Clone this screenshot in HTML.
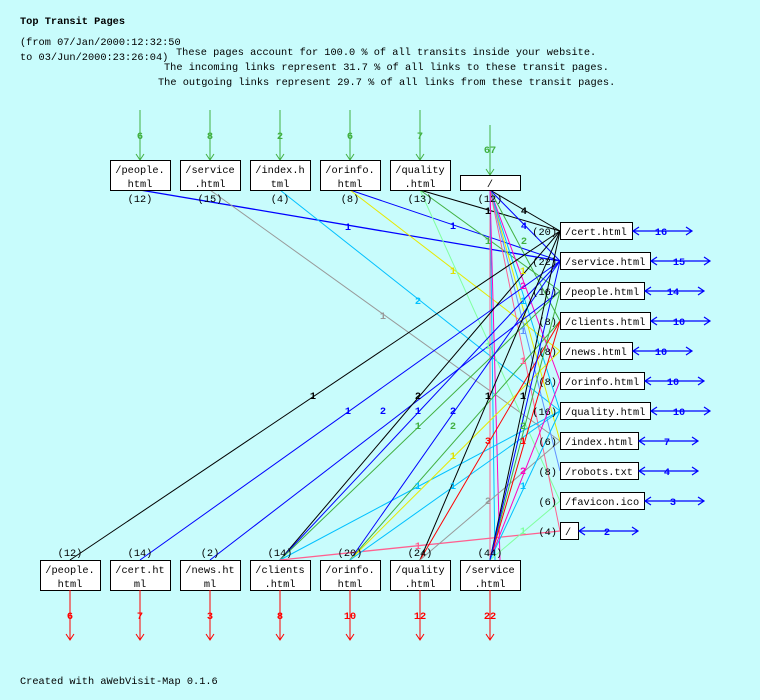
<!DOCTYPE html>
<html><head><meta charset="utf-8"><style>
html,body{margin:0;padding:0;background:#c8fcfc;}
svg{display:block;}
text{font-family:"Liberation Mono","DejaVu Sans Mono",monospace;font-size:10.3px;}
.b{font-weight:bold;font-size:11px;}
</style></head><body>
<svg width="760" height="700" viewBox="0 0 760 700" xmlns="http://www.w3.org/2000/svg">
<rect width="760" height="700" fill="#c8fcfc"/>
<text x="20" y="24" font-weight="bold" font-size="11px">Top Transit Pages</text>
<text x="20" y="45">(from 07/Jan/2000:12:32:50</text>
<text x="20" y="60">to 03/Jun/2000:23:26:04)</text>
<text x="176" y="55">These pages account for 100.0 % of all transits inside your website.</text>
<text x="164" y="70">The incoming links represent 31.7 % of all links to these transit pages.</text>
<text x="158" y="85">The outgoing links represent 29.7 % of all links from these transit pages.</text>

<g stroke-width="1" fill="none">
<line x1="140" y1="190" x2="560" y2="261" stroke="#0000ff" stroke-width="1.3"/>
<line x1="210" y1="190" x2="560" y2="441" stroke="#999"/>
<line x1="280" y1="190" x2="560" y2="411" stroke="#00c0ff"/>
<line x1="350" y1="190" x2="560" y2="261" stroke="#0000ff"/>
<line x1="350" y1="190" x2="560" y2="351" stroke="#e8e800"/>
<line x1="420" y1="190" x2="560" y2="231" stroke="#000"/>
<line x1="420" y1="190" x2="560" y2="291" stroke="#40b040"/>
<line x1="420" y1="190" x2="560" y2="501" stroke="#80ffa0"/>
<line x1="490" y1="190" x2="560" y2="231" stroke="#000"/>
<line x1="490" y1="190" x2="560" y2="261" stroke="#0000ff"/>
<line x1="490" y1="190" x2="560" y2="321" stroke="#40b040"/>
<line x1="490" y1="190" x2="560" y2="441" stroke="#e8e800"/>
<line x1="490" y1="190" x2="560" y2="381" stroke="#ff00c0"/>
<line x1="490" y1="190" x2="560" y2="411" stroke="#00c0ff"/>
<line x1="490" y1="190" x2="560" y2="471" stroke="#6090ff"/>
<line x1="490" y1="190" x2="560" y2="531" stroke="#ff6090"/>
<line x1="490" y1="190" x2="490" y2="560" stroke="#ff6090"/>
<line x1="490" y1="190" x2="495" y2="560" stroke="#00c0ff"/>
<line x1="490" y1="190" x2="500" y2="560" stroke="#ff00c0"/>
<line x1="70" y1="560" x2="560" y2="231" stroke="#000"/>
<line x1="140" y1="560" x2="560" y2="261" stroke="#0000ff"/>
<line x1="210" y1="560" x2="560" y2="291" stroke="#0000ff"/>
<line x1="280" y1="560" x2="560" y2="231" stroke="#000"/>
<line x1="280" y1="560" x2="560" y2="261" stroke="#0000ff"/>
<line x1="280" y1="560" x2="560" y2="291" stroke="#40b040"/>
<line x1="280" y1="560" x2="560" y2="411" stroke="#00c0ff"/>
<line x1="280" y1="560" x2="560" y2="531" stroke="#ff6090" stroke-width="1.3"/>
<line x1="350" y1="560" x2="560" y2="261" stroke="#0000ff"/>
<line x1="350" y1="560" x2="560" y2="321" stroke="#40b040"/>
<line x1="350" y1="560" x2="560" y2="351" stroke="#e8e800"/>
<line x1="350" y1="560" x2="560" y2="411" stroke="#00c0ff"/>
<line x1="420" y1="560" x2="560" y2="231" stroke="#000"/>
<line x1="420" y1="560" x2="560" y2="321" stroke="#ff0000"/>
<line x1="420" y1="560" x2="560" y2="441" stroke="#999"/>
<line x1="490" y1="560" x2="560" y2="231" stroke="#000"/>
<line x1="490" y1="560" x2="560" y2="291" stroke="#40b040"/>
<line x1="490" y1="560" x2="560" y2="321" stroke="#ff0000"/>
<line x1="490" y1="560" x2="560" y2="381" stroke="#ff00c0"/>
<line x1="490" y1="560" x2="560" y2="411" stroke="#00c0ff"/>
<line x1="490" y1="560" x2="560" y2="501" stroke="#80ffa0"/>
<line x1="490" y1="560" x2="560" y2="261" stroke="#0000ff"/>
</g>

<g class="b" text-anchor="middle">
<text x="348" y="230" fill="#0000ff">1</text>
<text x="383" y="319" fill="#999">1</text>
<text x="418" y="304" fill="#00c0ff">2</text>
<text x="453" y="229" fill="#0000ff">1</text>
<text x="453" y="274" fill="#e0e000">1</text>
<text x="488" y="214" fill="#000">1</text>
<text x="488" y="244" fill="#40b040">1</text>
<text x="488" y="349" fill="#80ffa0">1</text>
<text x="524" y="214" fill="#000">4</text>
<text x="524" y="229" fill="#0000ff">4</text>
<text x="524" y="244" fill="#40b040">2</text>
<text x="523" y="274" fill="#e0e000">1</text>
<text x="523" y="289" fill="#ff00c0">2</text>
<text x="523" y="304" fill="#00c0ff">1</text>
<text x="523" y="334" fill="#6090ff">1</text>
<text x="523" y="364" fill="#ff6090">1</text>
<text x="313" y="399" fill="#000">1</text>
<text x="348" y="414" fill="#0000ff">1</text>
<text x="383" y="414" fill="#0000ff">2</text>
<text x="418" y="399" fill="#000">2</text>
<text x="418" y="414" fill="#0000ff">1</text>
<text x="418" y="429" fill="#40b040">1</text>
<text x="418" y="489" fill="#00c0ff">1</text>
<text x="418" y="549" fill="#ff6090">1</text>
<text x="453" y="414" fill="#0000ff">2</text>
<text x="453" y="429" fill="#40b040">2</text>
<text x="453" y="459" fill="#e0e000">1</text>
<text x="453" y="489" fill="#00c0ff">1</text>
<text x="488" y="399" fill="#000">1</text>
<text x="488" y="444" fill="#ff0000">3</text>
<text x="488" y="504" fill="#999">2</text>
<text x="523" y="399" fill="#000">1</text>
<text x="523" y="429" fill="#40b040">2</text>
<text x="523" y="444" fill="#ff0000">1</text>
<text x="523" y="474" fill="#ff00c0">2</text>
<text x="523" y="489" fill="#00c0ff">1</text>
<text x="523" y="534" fill="#80ffa0">1</text>
</g>

<g stroke="#40b040" fill="none">
<path d="M140 110V160M136 154L140 160L144 154"/>
<path d="M210 110V160M206 154L210 160L214 154"/>
<path d="M280 110V160M276 154L280 160L284 154"/>
<path d="M350 110V160M346 154L350 160L354 154"/>
<path d="M420 110V160M416 154L420 160L424 154"/>
<path d="M490 125V175M486 169L490 175L494 169"/>
</g>
<g class="b" fill="#40b040" text-anchor="middle">
<text x="140" y="139">6</text><text x="210" y="139">8</text><text x="280" y="139">2</text>
<text x="350" y="139">6</text><text x="420" y="139">7</text><text x="490" y="153">67</text>
</g>

<g fill="#fff" stroke="#000">
<rect x="110.5" y="160.5" width="60" height="30"/>
<rect x="180.5" y="160.5" width="60" height="30"/>
<rect x="250.5" y="160.5" width="60" height="30"/>
<rect x="320.5" y="160.5" width="60" height="30"/>
<rect x="390.5" y="160.5" width="60" height="30"/>
<rect x="460.5" y="175.5" width="60" height="15"/>
</g>
<g text-anchor="middle">
<text x="140" y="173">/people.</text><text x="140" y="187">html</text>
<text x="210" y="173">/service</text><text x="210" y="187">.html</text>
<text x="280" y="173">/index.h</text><text x="280" y="187">tml</text>
<text x="350" y="173">/orinfo.</text><text x="350" y="187">html</text>
<text x="420" y="173">/quality</text><text x="420" y="187">.html</text>
<text x="490" y="187">/</text>
<text x="140" y="202">(12)</text><text x="210" y="202">(15)</text><text x="280" y="202">(4)</text>
<text x="350" y="202">(8)</text><text x="420" y="202">(13)</text><text x="490" y="202">(12)</text>
</g>

<g fill="#fff" stroke="#000">
<rect x="560.5" y="222.5" width="72" height="17"/>
<rect x="560.5" y="252.5" width="90" height="17"/>
<rect x="560.5" y="282.5" width="84" height="17"/>
<rect x="560.5" y="312.5" width="90" height="17"/>
<rect x="560.5" y="342.5" width="72" height="17"/>
<rect x="560.5" y="372.5" width="84" height="17"/>
<rect x="560.5" y="402.5" width="90" height="17"/>
<rect x="560.5" y="432.5" width="78" height="17"/>
<rect x="560.5" y="462.5" width="78" height="17"/>
<rect x="560.5" y="492.5" width="84" height="17"/>
<rect x="560.5" y="522.5" width="18" height="17"/>
</g>
<g>
<text x="565" y="235">/cert.html</text>
<text x="565" y="265">/service.html</text>
<text x="565" y="295">/people.html</text>
<text x="565" y="325">/clients.html</text>
<text x="565" y="355">/news.html</text>
<text x="565" y="385">/orinfo.html</text>
<text x="565" y="415">/quality.html</text>
<text x="565" y="445">/index.html</text>
<text x="565" y="475">/robots.txt</text>
<text x="565" y="505">/favicon.ico</text>
<text x="565" y="535">/</text>
</g>
<g text-anchor="end">
<text x="557" y="235">(20)</text><text x="557" y="265">(22)</text><text x="557" y="295">(16)</text>
<text x="557" y="325">(8)</text><text x="557" y="355">(8)</text><text x="557" y="385">(8)</text>
<text x="557" y="415">(16)</text><text x="557" y="445">(6)</text><text x="557" y="475">(8)</text>
<text x="557" y="505">(6)</text><text x="557" y="535">(4)</text>
</g>
<g stroke="#0000ff" fill="none" stroke-width="1.2">
<path d="M633 231H692M639 227L633 231L639 235M686 227L692 231L686 235"/>
<path d="M651 261H710M657 257L651 261L657 265M704 257L710 261L704 265"/>
<path d="M645 291H704M651 287L645 291L651 295M698 287L704 291L698 295"/>
<path d="M651 321H710M657 317L651 321L657 325M704 317L710 321L704 325"/>
<path d="M633 351H692M639 347L633 351L639 355M686 347L692 351L686 355"/>
<path d="M645 381H704M651 377L645 381L651 385M698 377L704 381L698 385"/>
<path d="M651 411H710M657 407L651 411L657 415M704 407L710 411L704 415"/>
<path d="M639 441H698M645 437L639 441L645 445M692 437L698 441L692 445"/>
<path d="M639 471H698M645 467L639 471L645 475M692 467L698 471L692 475"/>
<path d="M645 501H704M651 497L645 501L651 505M698 497L704 501L698 505"/>
<path d="M579 531H638M585 527L579 531L585 535M632 527L638 531L632 535"/>
</g>
<g class="b" fill="#0000ff" text-anchor="middle">
<text x="661" y="235">16</text><text x="679" y="265">15</text><text x="673" y="295">14</text>
<text x="679" y="325">10</text><text x="661" y="355">10</text><text x="673" y="385">10</text>
<text x="679" y="415">10</text><text x="667" y="445">7</text><text x="667" y="475">4</text>
<text x="673" y="505">3</text><text x="607" y="535">2</text>
</g>

<g fill="#fff" stroke="#000">
<rect x="40.5" y="560.5" width="60" height="30"/>
<rect x="110.5" y="560.5" width="60" height="30"/>
<rect x="180.5" y="560.5" width="60" height="30"/>
<rect x="250.5" y="560.5" width="60" height="30"/>
<rect x="320.5" y="560.5" width="60" height="30"/>
<rect x="390.5" y="560.5" width="60" height="30"/>
<rect x="460.5" y="560.5" width="60" height="30"/>
</g>
<g text-anchor="middle">
<text x="70" y="573">/people.</text><text x="70" y="587">html</text>
<text x="140" y="573">/cert.ht</text><text x="140" y="587">ml</text>
<text x="210" y="573">/news.ht</text><text x="210" y="587">ml</text>
<text x="280" y="573">/clients</text><text x="280" y="587">.html</text>
<text x="350" y="573">/orinfo.</text><text x="350" y="587">html</text>
<text x="420" y="573">/quality</text><text x="420" y="587">.html</text>
<text x="490" y="573">/service</text><text x="490" y="587">.html</text>
<text x="70" y="556">(12)</text><text x="140" y="556">(14)</text><text x="210" y="556">(2)</text>
<text x="280" y="556">(14)</text><text x="350" y="556">(20)</text><text x="420" y="556">(24)</text>
<text x="490" y="556">(44)</text>
</g>
<g stroke="#ff0000" fill="none">
<path d="M70 590V640M66 634L70 640L74 634"/>
<path d="M140 590V640M136 634L140 640L144 634"/>
<path d="M210 590V640M206 634L210 640L214 634"/>
<path d="M280 590V640M276 634L280 640L284 634"/>
<path d="M350 590V640M346 634L350 640L354 634"/>
<path d="M420 590V640M416 634L420 640L424 634"/>
<path d="M490 590V640M486 634L490 640L494 634"/>
</g>
<g class="b" fill="#ff0000" text-anchor="middle">
<text x="70" y="619">6</text><text x="140" y="619">7</text><text x="210" y="619">3</text>
<text x="280" y="619">8</text><text x="350" y="619">10</text><text x="420" y="619">12</text>
<text x="490" y="619">22</text>
</g>

<text x="20" y="684">Created with aWebVisit-Map 0.1.6</text>
</svg>
</body></html>
